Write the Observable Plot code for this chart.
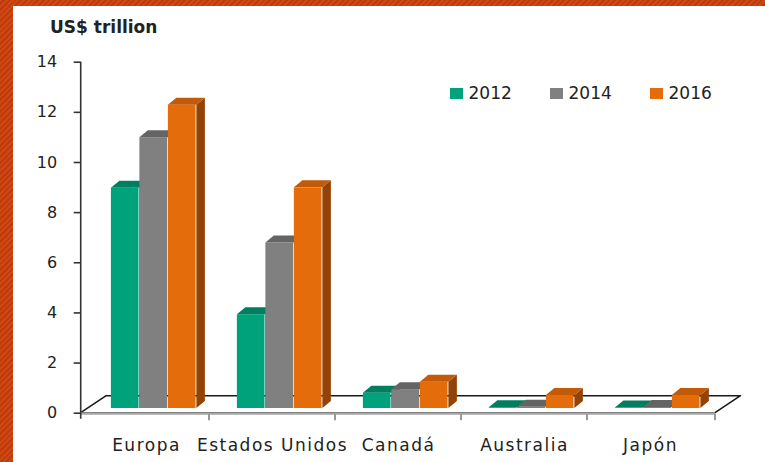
<!DOCTYPE html>
<html>
<head>
<meta charset="utf-8">
<script src="https://cdn.jsdelivr.net/npm/d3@7"></script>
<script src="https://cdn.jsdelivr.net/npm/@observablehq/plot@0.6"></script>
<style>
  html, body { margin: 0; padding: 0; background: #fff; }
  #wrap {
    position: relative; width: 765px; height: 462px; overflow: hidden;
    background: repeating-linear-gradient(135deg, #cf4713 0 2px, #bf3a0c 2px 4px);
  }
  #inner {
    position: absolute; left: 13px; top: 6px; width: 752px; height: 456px; background: #fff;
    font-family: "DejaVu Sans", sans-serif; color: #222;
  }
  #title { position: absolute; left: 37px; top: 13px; font-size: 17px; font-weight: bold; line-height: 1; white-space: nowrap; }
  #chart { position: absolute; left: 0; top: 34px; }
  #chart g[aria-label="x-axis tick label"] text { letter-spacing: 1.5px; }
  .leg { position: absolute; top: 79px; display: flex; align-items: center; font-size: 17px; line-height: 1; }
  .leg span.sw { display: inline-block; width: 12.5px; height: 11.5px; margin-right: 6px; }
</style>
</head>
<body>
<div id="wrap"><div id="inner">
  <div id="title">US$ trillion</div>
  <div id="chart"></div>
  <div id="legend"></div>
</div></div>
<script>
// ---- data ----
const categories = ["Europa", "Estados Unidos", "Canadá", "Australia", "Japón"];
const years = ["2012", "2014", "2016"];
const v2012 = [8.78, 3.74, 0.61, 0.03, 0.02];
const v2014 = [10.8, 6.6, 0.75, 0.05, 0.04];
const v2016 = [12.1, 8.8, 1.05, 0.52, 0.52];
const yTicks = [0, 2, 4, 6, 8, 10, 12, 14];

// ---- styles ----
const frontColors = ["#00a27c", "#808080", "#e46c0a"];
const topColors = ["#007f60", "#646464", "#c25a08"];
const sideColors = ["#006a50", "#555555", "#934306"];

const series = [v2012, v2014, v2016];
const rows = [];
series.forEach((vals, j) => vals.forEach((v, i) => rows.push({category: categories[i], year: years[j], value: v})));

const W = 752, H = 422;
const mL = 67.7, mR = 50, mT = 21.7, mB = 49.3;
const bw = (W - mL - mR) / categories.length;
const barW = 28.5;
const shiftX = 7.2, shiftY = -4.7;   // bars sit slightly back on the floor
const depthX = 8.5, depthY = 7;       // bar depth (3D)
const floorX = 25.5, floorY = 17;     // floor depth

function insetsFor(j) {
  const l = (bw - barW * years.length) / 2 + j * barW;
  return {insetLeft: l, insetRight: bw - l - barW};
}

function bandStart(scales, c) { return scales.x(c); }

// floor, axis line, category ticks
function floorMark(index, scales) {
  const g = d3.create("svg:g");
  const y0 = scales.y(0);
  const left = mL, right = W - mR;
  g.append("polygon")
    .attr("points", [[left, y0], [right, y0], [right + floorX, y0 - floorY], [left + floorX, y0 - floorY]].map(p => p.join(",")).join(" "))
    .attr("fill", "#fff").attr("stroke", "#1a1a1a").attr("stroke-width", 1.6).attr("stroke-linejoin", "round");
  g.append("line").attr("x1", left).attr("x2", right).attr("y1", y0 + 0.8).attr("y2", y0 + 0.8)
    .attr("stroke", "#a6a6a6").attr("stroke-width", 2.6);
  categories.forEach((c, k) => {
    const xs = bandStart(scales, c);
    if (k > 0) g.append("line").attr("x1", xs).attr("x2", xs).attr("y1", y0 + 1).attr("y2", y0 + 7.5).attr("stroke", "#999").attr("stroke-width", 2);
  });
  g.append("line").attr("x1", right).attr("x2", right).attr("y1", y0 + 1).attr("y2", y0 + 7.5).attr("stroke", "#999").attr("stroke-width", 2);
  g.append("line").attr("x1", left).attr("x2", left).attr("y1", scales.y(14)).attr("y2", y0 + 6)
    .attr("stroke", "#333").attr("stroke-width", 1.6);
  return g.node();
}

function facesMark(j) {
  return function (index, scales) {
    const g = d3.create("svg:g");
    const {insetLeft} = insetsFor(j);
    categories.forEach((c, i) => {
      const v = series[j][i];
      const l = bandStart(scales, c) + insetLeft + shiftX;
      const r = l + barW;
      const t = scales.y(v) + shiftY;
      const b = scales.y(0) + shiftY;
      g.append("polygon")
        .attr("points", [[r, t], [r + depthX, t - depthY], [r + depthX, b - depthY], [r, b]].map(p => p.join(",")).join(" "))
        .attr("fill", sideColors[j]);
      g.append("polygon")
        .attr("points", [[l, t], [r, t], [r + depthX, t - depthY], [l + depthX, t - depthY]].map(p => p.join(",")).join(" "))
        .attr("fill", topColors[j]);
    });
    return g.node();
  };
}

const marks = [floorMark];
years.forEach((yr, j) => {
  marks.push(Plot.barY(rows.filter(d => d.year === yr), {
    x: "category", y: "value", fill: frontColors[j],
    ...insetsFor(j), dx: shiftX, dy: shiftY
  }));
  marks.push(facesMark(j));
});
marks.push(Plot.axisY({ticks: yTicks, tickSize: 7, tickPadding: 17, fontSize: 16, label: null, stroke: "#333", strokeWidth: 1.6, fill: "#222"}));
marks.push(Plot.axisX({tickSize: 0, tickPadding: 26, fontSize: 17, label: null, fill: "#222"}));

const chart = Plot.plot({
  width: W, height: H,
  marginLeft: mL, marginRight: mR, marginTop: mT, marginBottom: mB,
  style: {fontFamily: "DejaVu Sans, sans-serif", background: "transparent", overflow: "visible", color: "#222"},
  x: {type: "band", domain: categories, padding: 0, label: null},
  y: {domain: [0, 14], label: null},
  marks
});
document.getElementById("chart").appendChild(chart);

// legend
const legend = document.getElementById("legend");
years.forEach((yr, j) => {
  const item = document.createElement("div");
  item.className = "leg";
  item.style.left = (437 + j * 100) + "px";
  item.innerHTML = `<span class="sw" style="background:${frontColors[j]}"></span><span>${yr}</span>`;
  legend.appendChild(item);
});
</script>
</body>
</html>
